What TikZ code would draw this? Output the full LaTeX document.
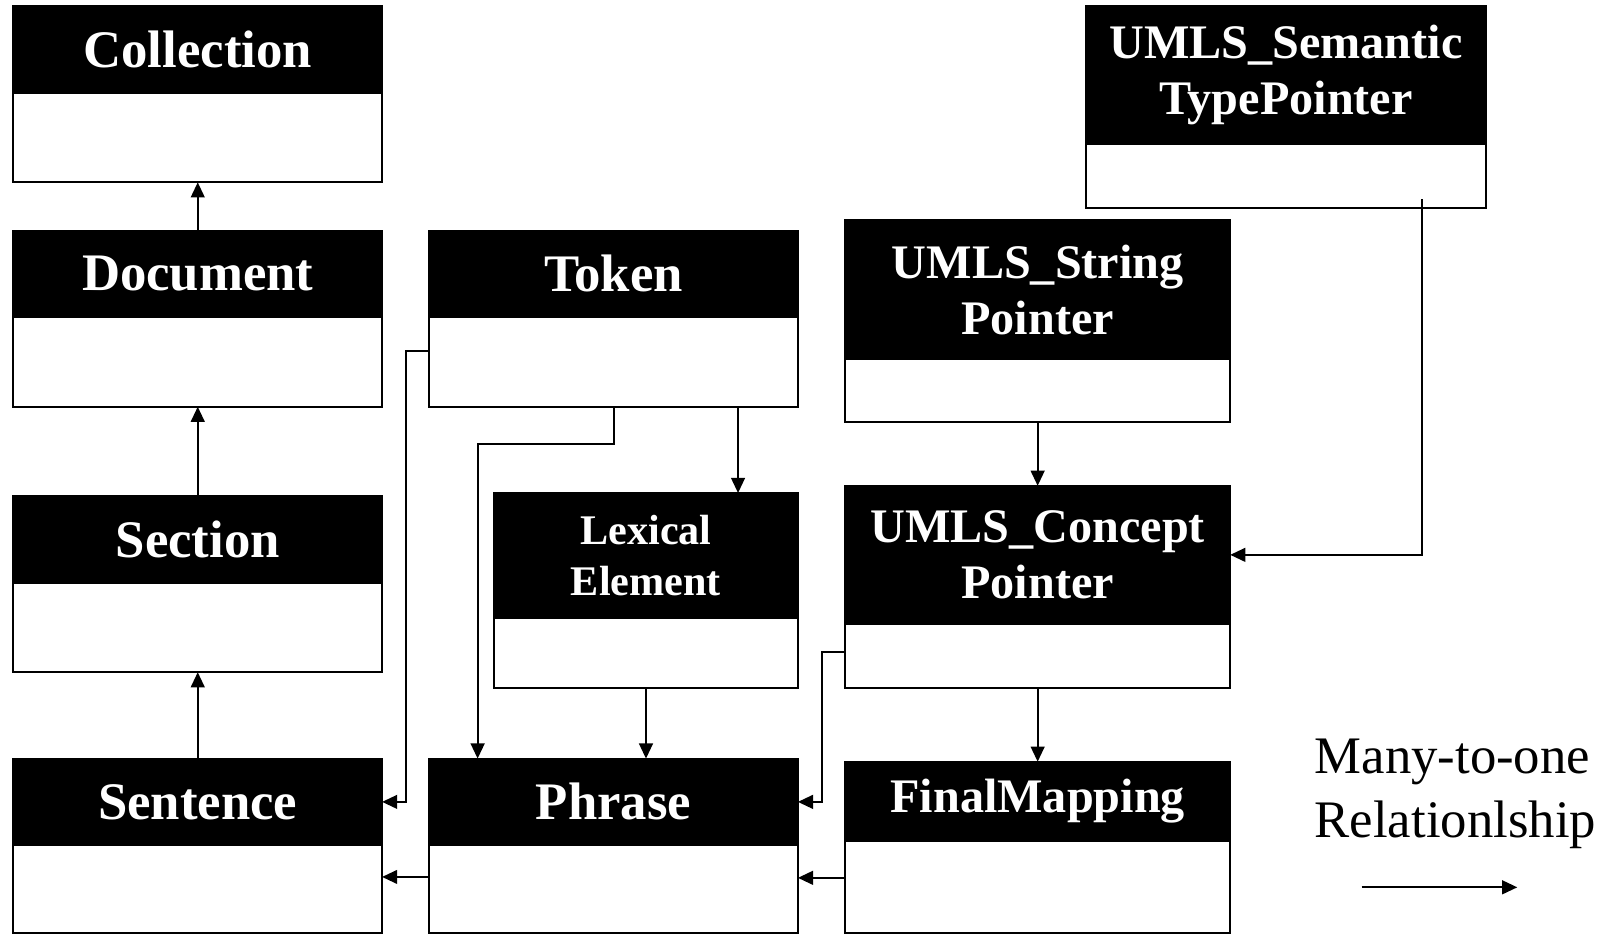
\documentclass[tikz,border=0pt]{standalone}
\usepackage{fontspec}
\setmainfont{Liberation Serif}
\usetikzlibrary{arrows.meta, positioning}

\tikzset{
  head/.style={draw, fill=black, text=white, line width=0.6pt, inner sep=0pt, outer sep=0pt,
    anchor=north west, align=center, font=\bfseries\fontsize{15}{18}\selectfont},
  body/.style={draw, fill=white, line width=0.6pt, inner sep=0pt, outer sep=0pt},
  umls/.style={font=\bfseries\fontsize{13.7}{16}\selectfont},
  lex/.style={font=\bfseries\fontsize{12}{14.6}\selectfont},
  rel/.style={line width=0.6pt, -{Triangle[length=4.3pt,width=3.9pt]}},
}

\begin{document}
\begin{tikzpicture}[x=0.01cm, y=-0.01cm]
\useasboundingbox (0,0) rectangle (1614,935);
% left column
\node[head, minimum width=3.685cm, minimum height=0.865cm] (colH) at (13.4,6.2) {Collection};
\node[body, below=0pt of colH, minimum width=3.685cm, minimum height=0.895cm] (colB) {};
\node[head, minimum width=3.685cm, minimum height=0.865cm] (docH) at (13.4,230.6) {Document};
\node[body, below=0pt of docH, minimum width=3.685cm, minimum height=0.895cm] (docB) {};
\node[head, minimum width=3.685cm, minimum height=0.865cm] (secH) at (13.4,496.1) {Section};
\node[body, below=0pt of secH, minimum width=3.685cm, minimum height=0.895cm] (secB) {};
\node[head, minimum width=3.685cm, minimum height=0.865cm] (senH) at (13.4,758.6) {Sentence};
\node[body, below=0pt of senH, minimum width=3.685cm, minimum height=0.875cm] (senB) {};
% middle column
\node[head, minimum width=3.685cm, minimum height=0.865cm] (tokH) at (429.2,230.6) {Token};
\node[body, below=0pt of tokH, minimum width=3.685cm, minimum height=0.895cm] (tokB) {};
\node[head, lex, minimum width=3.036cm, minimum height=1.246cm] (lexH) at (494.1,493) {Lexical\\Element};
\node[body, below=0pt of lexH, minimum width=3.036cm, minimum height=0.70cm] (lexB) {};
\node[head, minimum width=3.685cm, minimum height=0.865cm] (phrH) at (429.2,758.6) {Phrase};
\node[body, below=0pt of phrH, minimum width=3.685cm, minimum height=0.875cm] (phrB) {};
% right column
\node[head, umls, minimum width=3.849cm, minimum height=1.389cm] (strH) at (845.1,220.3) {UMLS\_String\\Pointer};
\node[body, below=0pt of strH, minimum width=3.849cm, minimum height=0.628cm] (strB) {};
\node[head, umls, minimum width=3.849cm, minimum height=1.38cm] (conH) at (845.1,485.8) {UMLS\_Concept\\Pointer};
\node[body, below=0pt of conH, minimum width=3.849cm, minimum height=0.638cm] (conB) {};
\node[head, umls, minimum width=3.849cm, minimum height=0.793cm] (finH) at (845.1,761.7) {FinalMapping};
\node[body, below=0pt of finH, minimum width=3.849cm, minimum height=0.915cm] (finB) {};
\node[head, umls, minimum width=4.003cm, minimum height=1.381cm] (semH) at (1085.7,6.2) {UMLS\_Semantic\\TypePointer};
\node[body, below=0pt of semH, minimum width=4.003cm, minimum height=0.64cm] (semB) {};
% legend
\node[anchor=north west, align=left, inner sep=0pt, font=\fontsize{15}{18.3}\selectfont] (key) at (1314,738) {Many-to-one\\Relationlship};
\coordinate (keyA) at (1361.7,887.3);
\coordinate (keyB) at (1517.3,887.3);
\draw[rel] (keyA) -- (keyB);

% connectors
\draw[rel] (docH.north) -- (colB.south);
\draw[rel] (secH.north) -- (docB.south);
\draw[rel] (senH.north) -- (secB.south);
\draw[rel] ([yshift=0.11cm]tokB.west) -- ++(-23.6,0) |- (senH.east);
\draw[rel] (tokB.south) -- ++(0,37) -| ([xshift=0.484cm]phrH.north west);
\coordinate (lexIn) at ([xshift=0.92cm]lexH.north);
\draw[rel] (lexIn |- tokB.south) -- (lexIn);
\draw[rel] (lexB.south) -- (phrH.north -| lexB.south);
\draw[rel] (strB.south) -- (conH.north);
\draw[rel] ([xshift=1.36cm,yshift=0.09cm]semB.south) |- (conH.east);
\draw[rel] ([yshift=0.04cm]conB.west) -- ++(-23,0) |- (phrH.east);
\draw[rel] (conB.south) -- (finH.north);
\draw[rel] ([yshift=0.09cm]finB.west) coordinate (f1) -- (f1 -| phrB.east);
\draw[rel] ([yshift=0.12cm]phrB.west) coordinate (p1) -- (p1 -| senB.east);
\end{tikzpicture}
\end{document}
